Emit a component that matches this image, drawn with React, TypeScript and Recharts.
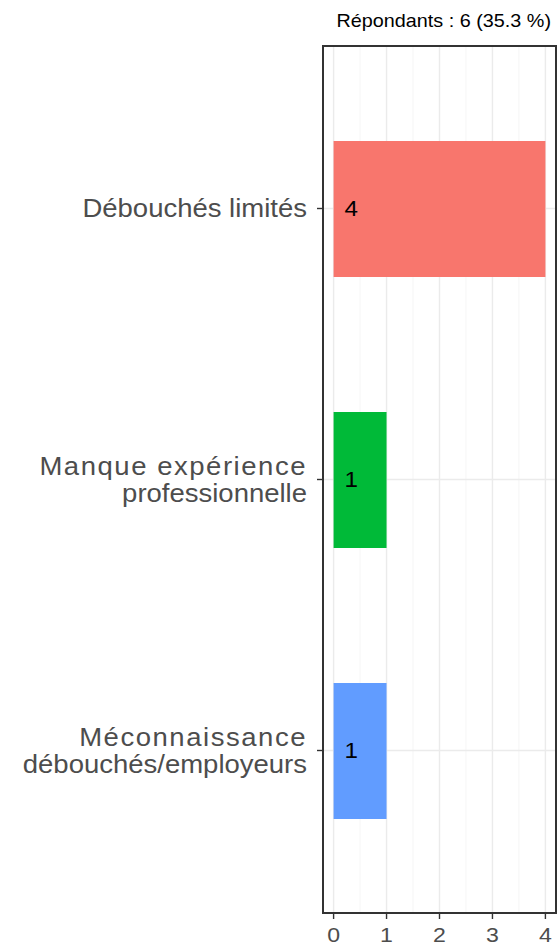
import React from 'react';
import { BarChart, Bar, XAxis, YAxis, CartesianGrid, Cell, LabelList } from 'recharts';

const categories = [
  'Débouchés limités',
  'Manque expérience\nprofessionnelle',
  'Méconnaissance\ndébouchés/employeurs',
];
const counts = [4, 1, 1];
const barColors = ['#F8766D', '#00BA38', '#619CFF'];
const xTicks = [0, 1, 2, 3, 4];
const minorTicks = [0.5, 1.5, 2.5, 3.5];
const subtitle = 'Répondants : 6 (35.3 %)';

const FONT = '"Liberation Sans", Arial, Helvetica, sans-serif';
// the picture is a bit wider than tall, so glyphs get stretched a little
const STRETCH = 1.1;
const DARK = '#333333';

const data = categories.map((label, i) => ({ label, count: counts[i] }));

function YTick(props: any) {
  const { x, y, payload } = props;
  const lines = String(payload.value).split('\n');
  const size = 25;
  const lh = 27;
  const y0 = y - ((lines.length - 1) * lh) / 2 + 0.358 * size;
  return (
    <g transform={`translate(${x},${y0}) scale(${STRETCH},1)`}>
      <text textAnchor="end" fontSize={size} fill="#4d4d4d" fontFamily={FONT}>
        {lines.map((l, i) => (
          // wrapped first lines come out looser in the original
          <tspan key={i} x={0} y={i * lh} letterSpacing={lines.length > 1 && i === 0 ? 1.4 : 0}>
            {l}
          </tspan>
        ))}
      </text>
    </g>
  );
}

function XTick(props: any) {
  const { x, y, payload } = props;
  const size = 21;
  return (
    <g transform={`translate(${x},${y + 0.7 * size}) scale(${STRETCH},1)`}>
      <text textAnchor="middle" fontSize={size} fill="#4d4d4d" fontFamily={FONT}>
        {payload.value}
      </text>
    </g>
  );
}

function BarValue(props: any) {
  const { x, y, height, value } = props;
  const size = 22;
  return (
    <g transform={`translate(${x + 11},${y + height / 2 + 0.34 * size}) scale(${STRETCH},1)`}>
      <text fontSize={size} fill="#000" fontFamily={FONT}>
        {value}
      </text>
    </g>
  );
}

export default function App() {
  return (
    <div style={{ position: 'absolute', left: 0, top: 0, width: 558, height: 945, background: '#fff' }}>
      <svg width={558} height={40} style={{ position: 'absolute', left: 0, top: 0 }}>
        <g transform={`translate(551,27) scale(${STRETCH},1)`}>
          <text textAnchor="end" fontSize={18} fill="#000" fontFamily={FONT}>
            {subtitle}
          </text>
        </g>
      </svg>
      <div style={{ position: 'absolute', left: 0, top: 0 }}>
        <BarChart
          width={558}
          height={945}
          data={data}
          layout="vertical"
          margin={{ top: 46, right: 2, bottom: 2, left: 0 }}
        >
          <CartesianGrid
            horizontal={false}
            verticalValues={minorTicks}
            stroke="#f2f2f2"
            strokeWidth={0.8}
          />
          <CartesianGrid stroke="#ebebeb" strokeWidth={1.4} />
          <XAxis
            type="number"
            domain={[-0.2, 4.2]}
            ticks={xTicks}
            interval={0}
            height={30}
            tickSize={6}
            tickMargin={8}
            tick={<XTick />}
            stroke={DARK}
            axisLine={false}
            tickLine={{ stroke: DARK, strokeWidth: 1.4 }}
          />
          <YAxis
            type="category"
            dataKey="label"
            width={323}
            padding={{ top: 27, bottom: 27 }}
            tickSize={6}
            tickMargin={10}
            tick={<YTick />}
            interval={0}
            stroke={DARK}
            axisLine={false}
            tickLine={{ stroke: DARK, strokeWidth: 1.4 }}
          />
          <Bar dataKey="count" barSize={136} isAnimationActive={false}>
            {data.map((d, i) => (
              <Cell key={d.label} fill={barColors[i]} />
            ))}
            <LabelList dataKey="count" content={<BarValue />} />
          </Bar>
        </BarChart>
      </div>
      {/* panel border */}
      <div
        style={{
          position: 'absolute',
          left: 322,
          top: 45,
          width: 235,
          height: 869,
          boxSizing: 'border-box',
          border: `2px solid ${DARK}`,
          pointerEvents: 'none',
        }}
      />
    </div>
  );
}
